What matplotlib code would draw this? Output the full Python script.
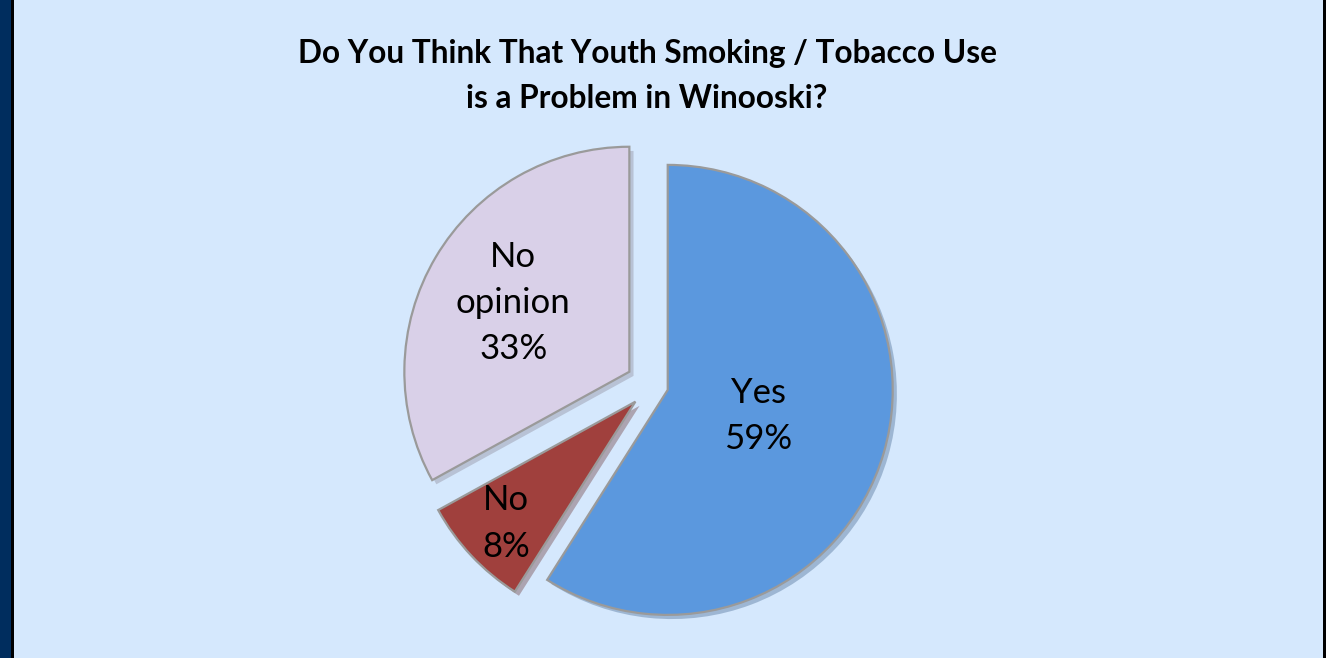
import numpy as np
import matplotlib
matplotlib.use('Agg')
import matplotlib.pyplot as plt
import matplotlib.patheffects as pe
from matplotlib.patches import Rectangle

# data
categories = ['Yes', 'No', 'No\nopinion']
shares = [59, 8, 33]
colors = ['#5B98DE', '#A0403D', '#D9D0E8']
explode = [0.07, 0.105, 0.12]
label_dist = [0.42, 0.79, 0.60]
title = 'Do You Think That Youth Smoking / Tobacco Use\nis a Problem in Winooski?'

W, H = 1326, 658
fig = plt.figure(figsize=(W / 100, H / 100), dpi=100)
fig.patch.set_facecolor('#D5E8FD')

# frame borders
fig.add_artist(Rectangle((0, 0), 11 / W, 1, transform=fig.transFigure, color='#002D5E', lw=0))
fig.add_artist(Rectangle((11 / W, 0), 2.5 / W, 1, transform=fig.transFigure, color='#000000', lw=0))
fig.add_artist(Rectangle((1323 / W, 0), 3 / W, 1, transform=fig.transFigure, color='#000000', lw=0))

ax = fig.add_axes([0, 0, 1, 1])
ax.set_facecolor('none')

wedges, _ = ax.pie(shares, colors=colors, explode=explode, startangle=90,
                   counterclock=False,
                   wedgeprops=dict(edgecolor='#9a9a9a', linewidth=1.6))
for w in wedges:
    w.set_path_effects([pe.SimplePatchShadow(offset=(3, -3), alpha=0.35, rho=0.6),
                        pe.Normal()])

# labels placed inside each wedge
for w, cat, s, d in zip(wedges, categories, shares, label_dist):
    mid = np.deg2rad((w.theta1 + w.theta2) / 2)
    cx, cy = w.center
    ax.text(cx + d * w.r * np.cos(mid), cy + d * w.r * np.sin(mid),
            f'{cat}\n{s}%', ha='center', va='center', fontsize=25,
            family='Lato', linespacing=1.55, color='#000000')

# place the pie like the reference (center ~ (652, 385) px, radius ~225 px)
r_px = 225.0
cx_px, cy_px = 652.6, 385.5
ax.set_xlim(-cx_px / r_px, (W - cx_px) / r_px)
ax.set_ylim(-(H - cy_px) / r_px, cy_px / r_px)
ax.axis('off')

fig.text(647 / W, 1 - 76 / H, title, ha='center', va='center', fontsize=22.8,
         fontweight='bold', family='Lato', linespacing=1.7)

fig.savefig('out.png', dpi=100, facecolor=fig.get_facecolor())
